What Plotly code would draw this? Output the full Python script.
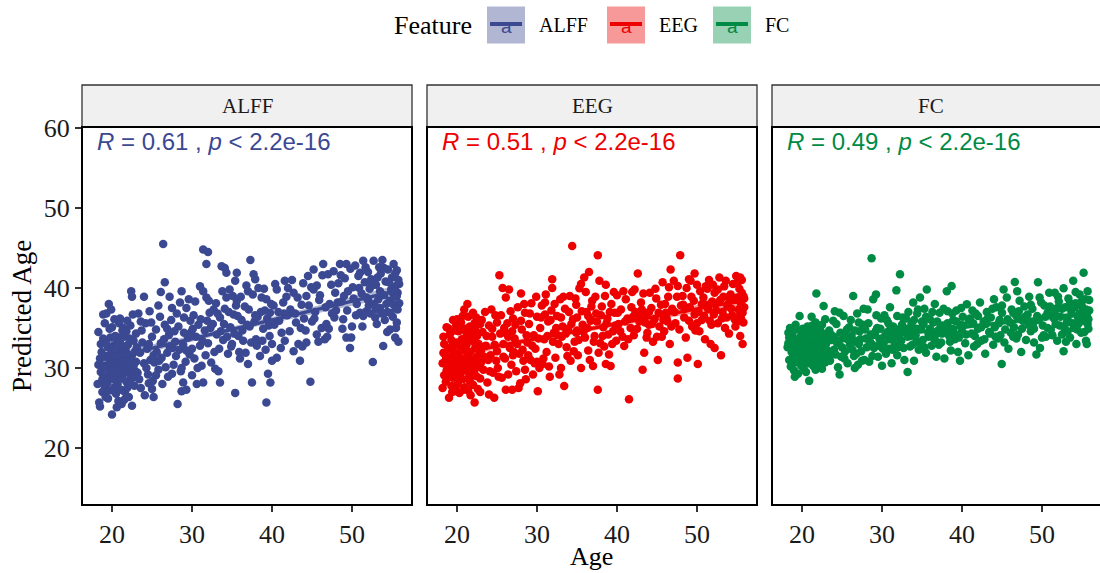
import numpy as np
import plotly.graph_objects as go

features = ["ALFF", "EEG", "FC"]
colors = ["#3B4992", "#EE0000", "#008B45"]
r_labels = ["0.61", "0.51", "0.49"]
p_label = "2.2e-16"
x_ticks = [20, 30, 40, 50]
y_ticks = [20, 30, 40, 50, 60]
x_title = "Age"
y_title = "Predicted Age"
legend_title = "Feature"

# (Age, Predicted Age)
alff_points = [
    (18.2,28.0),(18.3,34.5),(18.4,25.7),(18.5,25.2),(18.5,31.2),(18.6,29.5),(18.7,32.0),(18.8,28.6),(18.9,36.7),(19.0,30.3),
    (19.0,27.9),(19.1,33.1),(19.2,29.0),(19.3,36.8),(19.3,31.5),(19.4,30.0),(19.5,28.4),(19.5,32.6),(19.6,38.0),(19.6,27.2),
    (19.7,30.8),(19.8,33.8),(19.8,29.6),(19.9,31.9),(20.0,24.2),(20.0,35.1),(20.0,28.9),(20.0,30.5),(19.2,26.4),(18.9,33.7),
    (19.7,34.9),(19.4,28.1),
    (20.1,31.0),(20.2,29.3),(20.2,32.8),(20.3,27.6),(20.3,30.1),(20.4,34.0),(20.4,28.5),(20.5,31.7),(20.5,26.8),(20.6,29.9),
    (20.6,33.3),(20.7,30.6),(20.7,28.0),(20.8,32.2),(20.8,25.9),(20.9,30.9),(20.9,35.6),(21.0,36.2),(21.0,29.1),(21.0,31.4),
    (21.1,27.3),(21.1,33.0),(21.2,25.5),(21.2,30.2),(21.3,32.5),(21.3,28.7),(21.4,35.0),(21.4,30.7),(21.5,29.4),(21.5,33.9),
    (21.6,31.3),(21.6,27.0),(21.7,30.0),(21.8,34.6),(21.8,28.3),(21.9,31.8),(22.0,29.7),(22.0,32.9),(22.1,30.4),(22.1,26.4),
    (22.2,31.1),(22.3,35.3),(22.3,29.0),(22.4,39.6),(22.5,38.9),(22.5,25.3),(22.5,31.6),(22.6,28.8),(22.7,33.4),(22.7,30.3),
    (22.8,27.8),(22.9,32.1),(23.0,30.8),(23.0,34.3),(21.7,32.4),(20.5,33.9),(21.9,27.5),(22.2,33.7),(20.8,29.6),(21.4,31.9),
    (18.3,30.4),(18.6,33.0),(18.8,27.0),(19.1,35.6),(19.5,26.2),(19.9,37.3),(20.3,36.1),(20.6,25.1),(21.0,33.8),(21.5,26.0),
    (21.9,35.9),(22.2,28.1),(22.6,36.7),(22.9,29.6),(20.1,27.2),(21.3,34.7),(22.0,30.0),(19.3,33.0),
    (23.2,29.4),(23.3,36.8),(23.5,31.9),(23.6,27.5),(23.8,33.2),(24.0,30.6),(24.1,26.6),(24.2,35.6),(24.4,32.4),(24.5,29.2),
    (24.7,37.1),(24.8,31.0),(25.0,33.9),(25.1,28.4),(25.2,26.4),(25.3,30.7),(25.5,34.8),(25.6,32.0),(25.8,29.8),(26.0,36.4),
    (26.1,39.5),(26.2,31.3),(26.4,45.5),(26.5,33.6),(26.6,40.7),(26.7,30.1),(26.9,34.9),(27.0,28.9),(27.2,32.7),(27.4,36.0),
    (27.5,37.5),(27.7,30.4),(27.9,33.3),(28.0,31.5),(28.2,25.5),(28.3,35.2),(28.5,38.2),(28.6,29.6),(28.7,27.1),(28.7,39.6),
    (28.9,32.9),(29.0,34.4),(29.2,30.8),(29.3,27.3),(29.3,37.5),(29.5,33.8),(29.7,31.7),(29.8,35.9),(30.0,29.1),(30.0,32.4),
    (27.1,34.1),(25.9,30.9),(24.6,28.1),
    (23.1,32.6),(23.4,28.6),(23.7,34.7),(24.0,38.9),(24.3,30.0),(24.6,33.0),(24.9,35.7),(25.2,31.6),(25.5,29.1),(25.8,37.8),
    (26.1,33.1),(26.3,28.0),(26.6,35.4),(26.9,31.9),(27.2,38.9),(27.5,29.3),(27.8,34.6),(28.1,36.8),(28.4,32.3),(28.7,30.0),
    (29.0,36.3),(29.3,32.2),(29.6,38.6),(29.9,34.5),(23.6,35.8),(25.0,27.4),(27.6,32.5),(28.9,28.2),
    (30.2,36.6),(30.3,31.2),(30.5,33.9),(30.6,28.0),(30.8,35.4),(31.0,40.2),(31.0,32.8),(31.2,30.3),(31.4,44.8),(31.4,39.6),
    (31.4,28.2),(31.6,34.7),(31.8,43.0),(31.8,38.8),(32.0,44.5),(32.0,33.1),(32.2,36.9),(32.4,30.7),(32.6,35.5),(32.8,32.0),
    (33.0,38.1),(33.1,34.2),(33.3,29.6),(33.5,28.2),(33.5,36.3),(33.7,42.7),(33.9,33.5),(34.1,42.5),(34.1,37.4),(34.3,41.9),
    (34.3,38.8),(34.5,31.8),(34.7,39.8),(34.8,35.1),(35.0,33.0),(35.2,36.7),(35.4,40.9),(35.4,26.9),(35.6,41.9),(35.6,38.4),
    (35.8,34.0),(36.0,31.2),(36.2,36.0),(36.4,33.4),(36.6,37.7),(36.8,40.3),(37.0,39.6),(37.0,30.5),(37.2,35.2),(37.3,43.5),
    (37.5,28.2),(37.7,41.7),(37.9,41.1),(38.0,33.6),(38.2,36.4),(38.5,31.5),(38.7,38.8),(38.9,34.9),(39.1,37.2),(39.3,38.6),
    (39.3,25.7),(39.5,29.3),(39.6,35.3),(39.75,36.9),(39.8,28.2),(40.0,33.0),(40.0,30.9),
    (30.1,34.9),(30.4,38.3),(30.7,30.0),(31.1,36.1),(31.3,33.4),(31.7,31.6),(32.1,38.4),(32.3,35.0),(32.7,37.3),(32.9,29.9),
    (33.2,36.8),(33.4,32.4),(33.8,39.6),(34.0,35.5),(34.4,33.9),(34.6,37.0),(34.9,32.7),(35.1,39.0),(35.3,34.3),(35.7,36.5),
    (35.9,32.0),(36.1,38.9),(36.3,34.7),(36.7,31.9),(36.9,35.4),(37.1,37.3),(37.4,33.2),(37.6,39.2),(37.8,35.8),(38.1,32.8),
    (38.3,40.0),(38.6,37.0),(38.8,33.4),(39.0,39.9),(39.2,32.3),(39.4,36.2),(39.7,34.0),(39.9,38.0),(31.9,35.9),(33.6,34.6),
    (35.5,37.8),(37.9,36.6),
    (40.2,37.8),(40.4,40.5),(40.6,39.8),(40.6,31.3),(40.9,35.9),(41.2,34.4),(41.4,38.2),(41.6,40.9),(41.6,33.4),(41.9,36.6),
    (42.0,40.0),(42.3,37.3),(42.7,39.4),(42.7,32.1),(43.0,35.7),(43.3,33.0),(43.5,30.9),(43.7,37.9),(44.0,36.2),(44.3,39.0),
    (44.3,33.2),(44.5,41.5),(44.8,28.3),(45.0,35.8),(45.2,42.3),(45.2,39.8),(45.4,37.0),(45.6,40.3),(45.6,34.2),(45.9,38.5),
    (46.2,35.0),(46.4,43.0),(46.6,33.6),(46.8,35.5),(47.0,41.7),(47.2,38.0),(47.5,36.8),(47.7,42.1),(47.9,39.4),(48.0,37.2),
    (40.3,35.4),(40.8,37.0),(41.1,32.5),(41.5,36.8),(41.8,38.9),(42.2,34.6),(42.5,41.0),(42.9,36.8),(43.2,38.8),(43.6,35.0),
    (43.9,40.6),(44.2,34.7),(44.6,37.8),(44.9,40.1),(45.3,36.2),(45.8,33.3),(46.0,39.1),(46.3,41.6),(46.7,37.6),(47.1,34.9),
    (47.4,40.4),(47.8,36.3),(43.8,32.7),(46.9,33.9),
    (48.3,40.6),(48.5,43.0),(48.7,38.3),(48.9,36.1),(49.1,41.2),(49.3,43.0),(49.3,33.8),(49.5,39.6),(49.75,32.5),(49.9,33.8),
    (50.1,40.1),(50.4,42.8),(50.6,38.0),(50.8,41.5),(51.0,36.9),(51.2,39.3),(51.4,43.4),(51.4,36.5),(51.6,40.7),(51.8,38.8),
    (51.8,37.1),(52.0,42.0),(52.2,39.9),(52.4,41.1),(52.6,30.75),(52.7,43.4),(52.9,36.3),(53.0,40.4),(53.1,35.5),(53.3,38.6),
    (53.5,37.5),(53.6,41.8),(53.8,43.5),(53.9,32.75),(54.0,39.1),(54.2,40.8),(54.4,37.0),(54.5,42.3),(54.7,38.4),(54.75,34.8),
    (54.9,39.8),(55.0,41.3),(55.1,36.4),(55.2,43.0),(55.3,38.9),(55.4,40.2),(55.5,37.6),(55.6,42.2),(55.6,35.7),(55.7,39.4),
    (55.8,33.3),(55.8,41.0),(55.9,38.1),(54.1,36.0),(53.4,42.6),(52.1,37.8),(50.0,35.2),(48.8,34.9),(51.0,41.9),(55.4,33.8),
    (48.2,38.2),(48.6,41.6),(49.0,39.0),(49.4,37.2),(49.8,42.4),(50.2,38.7),(50.5,36.6),(50.9,40.0),(51.3,35.2),(51.7,42.6),
    (52.0,38.5),(52.3,36.8),(52.5,40.3),(52.8,38.0),(53.2,41.3),(53.5,39.6),(53.7,36.8),(54.0,42.5),(54.3,38.0),(54.6,40.7),
    (54.8,36.9),(55.0,39.5),(55.2,37.9),(55.4,41.8),(55.6,39.0),(55.7,37.3),(55.9,40.5),(55.5,35.0),(54.4,34.5),(53.0,37.3),
]

eeg_points = [
    (18.2,27.5),(18.2,30.6),(18.3,33.9),(18.4,33.0),(18.4,29.1),(18.5,31.7),(18.6,28.3),(18.7,35.1),(18.8,30.2),(18.9,32.4),
    (19.0,26.3),(19.0,29.6),(19.1,34.2),(19.2,31.1),(19.3,27.8),(19.3,33.5),(19.4,30.0),(19.5,36.0),(19.5,28.8),(19.6,32.0),
    (19.7,29.3),(19.7,34.7),(19.8,31.4),(19.9,35.4),(19.9,27.1),(20.0,30.8),(20.0,33.2),(18.6,31.0),(19.1,28.9),(19.4,32.8),
    (18.9,30.6),(19.8,29.9),
    (20.1,31.8),(20.1,28.0),(20.2,34.6),(20.3,30.3),(20.3,26.9),(20.4,32.7),(20.5,29.4),(20.5,35.7),(20.6,31.2),(20.7,36.5),
    (20.7,28.6),(20.8,33.1),(20.9,37.3),(20.9,30.0),(21.0,27.6),(21.0,32.3),(21.1,34.9),(21.2,29.7),(21.3,38.0),(21.3,31.5),
    (21.4,27.2),(21.4,33.8),(21.5,30.6),(21.6,35.2),(21.6,28.4),(21.7,32.0),(21.8,29.1),(21.8,34.4),(21.9,31.0),(22.0,36.9),
    (22.0,27.9),(22.1,33.3),(22.2,25.7),(22.2,30.4),(22.3,32.6),(22.4,36.3),(22.4,29.0),(22.5,34.0),(22.6,31.4),(22.6,27.4),
    (22.7,33.0),(22.8,30.1),(22.9,35.5),(22.9,28.7),(23.0,32.2),(23.0,30.7),(20.6,33.6),(21.1,30.9),(21.7,26.6),(22.3,34.8),
    (20.4,29.9),(21.9,33.5),(22.8,31.9),(21.2,32.9),(20.8,27.3),(22.1,29.5),
    (18.3,31.9),(18.7,29.7),(19.0,34.9),(19.4,27.0),(19.8,32.9),(20.2,29.0),(20.6,34.8),(21.0,30.6),(21.4,36.4),(21.8,30.3),
    (22.2,35.6),(22.6,33.0),(22.9,27.0),(20.0,36.1),(21.5,28.9),(22.4,31.3),(19.6,30.5),(21.2,34.1),
    (23.2,34.5),(23.3,29.8),(23.5,37.0),(23.6,32.8),(23.8,28.2),(24.0,26.7),(24.0,35.3),(24.2,31.6),(24.4,33.9),(24.5,29.4),
    (24.65,26.3),(24.8,36.6),(25.0,32.1),(25.1,30.0),(25.3,41.6),(25.4,34.3),(25.6,28.8),(25.7,40.0),(25.8,33.0),(26.0,31.2),
    (26.1,38.8),(26.1,27.3),(26.3,35.6),(26.5,39.8),(26.6,32.5),(26.8,30.4),(26.9,27.3),(27.0,36.2),(27.2,33.7),(27.4,29.6),
    (27.6,37.6),(27.8,31.8),(28.0,39.3),(28.1,34.8),(28.3,30.9),(28.5,36.9),(28.6,28.6),(28.8,33.2),(29.0,35.5),(29.2,31.0),
    (29.3,38.1),(29.5,29.2),(29.6,34.1),(29.8,32.4),(30.0,36.4),(30.0,30.8),(23.9,31.0),(24.9,30.9),(25.9,35.0),(27.1,32.0),
    (28.9,31.6),(26.4,33.9),(27.9,28.1),
    (23.1,36.0),(23.4,31.4),(23.7,34.0),(24.1,29.6),(24.3,37.3),(24.7,32.9),(25.0,35.7),(25.2,28.9),(25.5,36.6),(25.8,31.4),
    (26.2,34.3),(26.4,29.2),(26.7,37.1),(27.0,31.6),(27.3,35.4),(27.5,33.0),(27.7,27.5),(28.0,35.9),(28.2,32.3),(28.4,38.0),
    (28.7,34.1),(29.1,36.8),(29.4,32.8),(29.7,30.6),(29.9,38.9),(24.4,34.9),(26.9,34.6),(28.5,29.8),
    (30.1,27.1),(30.3,30.0),(30.4,35.0),(30.6,37.8),(30.7,30.5),(30.9,33.6),(31.1,39.2),(31.2,32.0),(31.4,35.8),(31.6,28.9),
    (31.8,37.2),(31.9,41.1),(31.9,40.0),(32.1,34.4),(32.3,31.3),(32.5,36.5),(32.7,33.0),(32.9,38.6),(33.0,30.0),(33.2,35.2),
    (33.4,27.75),(33.5,37.4),(33.7,32.6),(33.9,34.9),(34.1,39.0),(34.2,30.9),(34.4,45.25),(34.5,36.1),(34.7,33.3),(34.9,37.9),
    (35.1,31.6),(35.3,39.96),(35.5,40.5),(35.5,30.0),(35.7,35.4),(35.9,41.3),(36.0,33.8),(36.2,37.0),(36.4,32.2),(36.5,42.0),
    (36.7,35.9),(36.9,38.4),(37.0,30.25),(37.2,34.0),(37.4,36.8),(37.6,44.1),(37.6,27.3),(37.8,40.9),(37.9,33.1),(38.1,37.7),
    (38.3,35.1),(38.6,40.4),(38.6,30.5),(38.8,36.2),(39.0,31.7),(39.2,30.25),(39.3,38.0),(39.5,34.6),(39.7,36.9),(39.9,33.4),
    (40.0,39.1),(31.0,36.7),(33.1,33.9),(35.0,34.7),(36.8,36.0),(38.4,32.7),
    (30.2,33.7),(30.5,36.3),(30.8,31.2),(31.0,38.2),(31.3,34.0),(31.5,30.2),(31.7,36.0),(32.0,33.3),(32.2,38.0),(32.4,35.0),
    (32.8,29.2),(33.0,36.3),(33.3,38.9),(33.6,34.3),(33.8,31.5),(34.0,37.0),(34.3,35.5),(34.6,32.1),(34.8,38.7),(35.0,36.3),
    (35.2,33.5),(35.6,37.1),(35.8,34.5),(36.1,39.5),(36.3,35.0),(36.6,31.0),(36.8,37.7),(37.1,33.3),(37.3,38.9),(37.5,35.8),
    (37.7,31.9),(38.0,36.6),(38.2,34.0),(38.5,39.0),(38.7,35.6),(39.1,37.0),(39.4,33.0),(39.6,39.5),(39.8,35.3),(32.6,34.1),
    (34.9,34.4),(36.4,36.5),(38.9,34.2),
    (40.2,35.5),(40.5,37.3),(40.7,33.9),(40.9,32.75),(41.1,38.6),(41.3,36.2),(41.5,26.1),(41.7,35.0),(41.9,39.5),(42.1,34.1),
    (42.3,37.0),(42.6,41.8),(42.8,35.8),(43.0,38.2),(43.2,29.8),(43.4,31.9),(43.6,36.7),(43.8,34.4),(44.1,39.4),(44.3,37.5),
    (44.5,33.3),(44.7,36.1),(44.9,38.7),(45.1,31.0),(45.3,35.2),(45.5,37.9),(45.7,40.7),(45.9,34.6),(46.1,36.9),(46.4,38.9),
    (46.6,33.0),(46.7,42.3),(46.9,37.4),(47.1,40.9),(47.3,35.6),(47.6,40.25),(47.6,30.7),(47.6,28.7),(47.9,44.1),(48.0,37.8),
    (42.0,36.4),(44.0,35.4),(46.3,35.8),(43.1,37.3),(45.0,33.9),
    (40.1,36.9),(40.4,34.6),(40.8,39.6),(41.0,35.8),(41.4,33.6),(41.8,37.6),(42.2,39.8),(42.5,34.9),(42.9,36.4),(43.3,39.3),
    (43.7,33.8),(44.0,37.0),(44.4,35.5),(44.8,39.9),(45.2,36.9),(45.6,33.9),(46.0,38.0),(46.2,36.2),(46.5,40.1),(46.8,35.2),
    (47.2,37.0),(47.5,38.9),(47.8,34.8),(43.5,35.7),(45.8,36.0),
    (48.2,39.0),(48.4,36.3),(48.6,33.8),(48.8,31.3),(49.0,41.1),(49.1,37.6),(49.2,40.9),(49.4,35.2),(49.6,38.4),(49.8,34.7),
    (50.1,30.5),(50.2,37.0),(50.4,39.6),(50.6,36.0),(50.8,38.8),(51.0,33.6),(51.2,37.9),(51.5,41.0),(51.6,35.9),(51.7,33.0),
    (51.9,38.3),(52.1,36.7),(52.2,39.4),(52.2,32.5),(52.4,37.2),(52.6,39.8),(52.8,41.3),(53.0,31.6),(53.1,36.2),(53.3,38.9),
    (53.5,35.0),(53.6,40.9),(53.8,37.7),(54.0,34.3),(54.2,39.2),(54.4,36.6),(54.6,38.5),(54.9,41.5),(55.0,35.8),(55.1,40.7),
    (55.2,37.3),(55.3,39.9),(55.4,34.0),(55.5,38.1),(55.6,41.0),(55.7,33.0),(55.7,36.9),(55.8,39.0),(55.9,37.6),(48.5,37.4),
    (50.0,35.6),(51.3,39.9),(53.9,38.0),(54.7,36.1),(55.3,38.4),(49.7,41.8),
    (48.3,37.9),(48.7,40.0),(49.0,35.9),(49.3,38.9),(49.7,36.7),(50.0,40.4),(50.3,34.6),(50.6,38.0),(50.9,36.5),(51.1,40.2),
    (51.4,37.3),(51.8,35.4),(52.0,40.4),(52.3,38.0),(52.6,35.6),(52.9,38.5),(53.2,37.0),(53.4,40.2),(53.7,36.3),(54.0,38.9),
    (54.3,37.4),(54.5,40.5),(54.8,35.2),(55.0,38.8),(55.2,36.4),(55.4,41.3),(55.6,39.4),(55.8,35.7),(55.9,38.7),(55.5,36.2),
]

fc_points = [
    (18.2,32.6),(18.3,34.4),(18.4,31.0),(18.5,35.0),(18.5,33.3),(18.6,30.2),(18.7,32.0),(18.8,34.1),(18.9,31.6),(19.0,29.7),
    (19.0,33.6),(19.1,32.3),(19.2,30.7),(19.3,34.8),(19.4,31.9),(19.5,33.0),(19.5,29.3),(19.6,32.7),(19.7,36.5),(19.75,30.9),
    (19.8,33.9),(19.9,31.3),(20.0,34.5),(20.0,32.1),(18.9,33.0),(19.3,32.9),(19.6,31.2),(18.4,33.8),(19.1,28.9),(19.9,30.3),
    (20.1,33.2),(20.2,30.0),(20.2,31.8),(20.3,34.3),(20.4,32.5),(20.5,29.5),(20.5,33.7),(20.6,31.1),(20.7,35.2),(20.7,32.9),
    (20.8,30.6),(20.9,28.4),(20.9,34.0),(21.0,32.2),(21.1,33.5),(21.2,36.4),(21.2,30.8),(21.3,32.7),(21.4,30.25),(21.4,34.6),
    (21.5,31.9),(21.6,33.3),(21.7,29.8),(21.7,35.7),(21.8,39.3),(21.8,32.4),(21.9,31.0),(22.0,33.8),(22.1,30.4),(22.2,34.9),
    (22.2,32.0),(22.3,31.4),(22.4,33.1),(22.5,29.9),(22.5,35.4),(22.6,32.6),(22.7,37.75),(22.7,31.2),(22.8,34.2),(22.9,36.1),
    (22.9,30.7),(23.0,33.0),(20.4,31.5),(21.0,34.8),(21.5,33.0),(22.0,31.6),(22.4,34.5),(20.6,32.3),(21.9,32.8),(22.8,31.8),
    (20.8,33.4),(21.3,31.3),
    (18.3,33.1),(18.6,34.6),(18.9,32.2),(19.2,35.4),(19.5,31.7),(19.8,32.6),(20.1,34.9),(20.4,33.6),(20.7,31.6),(21.0,33.0),
    (21.3,35.3),(21.6,32.0),(21.9,34.1),(22.2,33.2),(22.5,31.0),(22.8,33.6),(19.0,31.4),(20.3,32.8),(21.1,31.7),(22.0,35.2),
    (23.2,32.2),(23.4,34.7),(23.5,30.9),(23.7,33.5),(23.9,35.9),(24.1,37.1),(24.2,31.7),(24.4,33.1),(24.5,30.1),(24.7,29.2),
    (24.8,34.4),(25.0,32.6),(25.2,36.5),(25.3,31.2),(25.5,33.9),(25.7,30.6),(25.9,35.1),(26.0,32.9),(26.2,34.0),(26.4,39.0),
    (26.5,31.5),(26.7,33.3),(26.9,36.8),(27.0,30.4),(27.2,34.6),(27.4,32.1),(27.6,35.4),(27.8,31.0),(28.0,33.7),(28.2,37.3),
    (28.4,30.8),(28.6,34.2),(28.7,43.7),(28.9,38.6),(29.0,32.5),(29.25,39.2),(29.4,35.0),(29.5,31.4),(29.7,33.6),(29.9,36.2),
    (30.0,30.3),(24.0,33.9),(25.6,34.8),(27.1,33.0),(28.8,32.9),(26.6,30.0),(23.8,31.8),(29.2,34.6),
    (23.1,33.8),(23.3,31.5),(23.6,34.2),(24.0,32.3),(24.3,35.5),(24.6,33.4),(24.9,31.4),(25.1,34.2),(25.4,32.1),(25.8,33.5),
    (26.1,36.0),(26.3,32.3),(26.6,34.7),(26.8,31.8),(27.1,35.7),(27.3,33.6),(27.5,30.9),(27.9,34.8),(28.1,32.6),(28.3,35.6),
    (28.5,33.3),(28.8,31.5),(29.1,34.2),(29.3,36.6),(29.6,32.8),(29.8,34.9),(24.7,36.9),(27.7,37.4),
    (30.2,33.1),(30.3,36.6),(30.5,31.8),(30.7,34.5),(30.9,32.4),(31.0,37.6),(31.2,30.6),(31.4,35.2),(31.6,33.0),(31.8,39.7),
    (31.9,31.6),(32.1,34.8),(32.25,41.7),(32.4,33.4),(32.6,36.3),(32.8,31.0),(33.0,34.9),(33.2,29.5),(33.3,37.0),(33.5,32.7),
    (33.7,35.6),(33.9,38.2),(34.0,30.9),(34.2,34.1),(34.4,36.8),(34.6,32.3),(34.75,38.8),(34.9,35.0),(35.1,33.5),(35.3,37.4),
    (35.5,31.9),(35.6,39.8),(35.8,34.4),(36.0,36.1),(36.2,32.8),(36.4,35.7),(36.6,38.0),(36.8,31.4),(37.0,34.7),(37.2,36.9),
    (37.4,33.2),(37.6,35.3),(37.8,31.2),(38.1,39.6),(38.2,37.1),(38.4,34.0),(38.6,32.2),(38.7,40.25),(38.9,36.0),(39.1,33.6),
    (39.3,35.8),(39.5,32.0),(39.75,30.9),(39.9,37.5),(40.0,34.6),(30.8,35.6),(32.0,32.6),(33.6,34.0),(35.2,35.5),(36.5,33.7),
    (37.5,34.3),(38.8,34.9),(31.5,34.0),(34.3,33.3),
    (30.1,32.4),(30.4,34.1),(30.6,36.0),(30.9,33.6),(31.1,35.1),(31.3,32.3),(31.6,34.4),(31.9,36.5),(32.2,33.7),(32.5,35.4),
    (32.7,32.5),(33.0,36.2),(33.2,33.9),(33.5,35.0),(33.8,32.9),(34.0,36.0),(34.3,34.9),(34.5,37.3),(34.8,33.2),(35.0,35.8),
    (35.3,32.6),(35.5,36.4),(35.8,33.9),(36.0,34.9),(36.3,37.0),(36.6,33.5),(36.9,35.8),(37.1,32.9),(37.3,35.0),(37.7,37.4),
    (37.9,34.6),(38.2,35.6),(38.5,33.3),(38.8,36.8),(39.0,34.4),(39.3,37.2),(39.6,33.8),(39.8,35.4),(32.8,34.5),(36.7,34.2),
    (40.2,35.3),(40.4,33.1),(40.6,37.96),(40.8,31.6),(41.0,36.2),(41.2,34.3),(41.5,32.7),(41.7,36.8),(42.0,34.9),(42.25,38.2),
    (42.4,33.4),(42.7,35.8),(42.9,31.8),(43.1,37.0),(43.4,34.5),(43.6,36.3),(43.9,32.9),(44.1,35.1),(44.3,37.6),(44.5,33.7),
    (44.7,36.0),(44.96,30.5),(45.2,39.8),(45.4,34.8),(45.6,38.8),(45.8,32.4),(46.0,35.7),(46.2,37.3),(46.4,33.9),(46.6,40.75),
    (46.8,36.5),(47.0,34.2),(47.2,38.4),(47.4,32.0),(47.6,35.9),(47.8,37.7),(48.0,33.5),(41.9,33.0),(43.0,35.5),(44.8,34.1),
    (46.5,35.1),(47.3,36.2),(45.0,36.9),(41.4,35.6),
    (40.1,36.4),(40.5,34.2),(40.9,35.9),(41.3,37.2),(41.6,34.0),(42.0,36.5),(42.4,35.1),(42.8,33.6),(43.2,36.2),(43.5,34.3),
    (43.8,37.4),(44.2,33.9),(44.6,35.6),(45.0,37.8),(45.3,33.2),(45.7,36.1),(46.1,34.4),(46.4,36.9),(46.8,33.7),(47.1,37.1),
    (47.5,34.9),(47.9,36.4),(44.0,38.6),(46.9,39.6),
    (48.2,36.7),(48.4,38.9),(48.6,34.6),(48.8,37.4),(49.0,33.2),(49.3,31.7),(49.5,40.7),(49.6,36.0),(49.75,32.5),(49.9,38.2),
    (50.1,35.3),(50.3,37.8),(50.5,33.9),(50.7,36.9),(50.9,39.4),(51.1,34.8),(51.3,37.0),(51.6,39.4),(51.7,35.5),(51.9,33.4),
    (52.1,38.3),(52.3,36.4),(52.5,34.2),(52.7,39.96),(52.7,32.1),(52.9,37.6),(53.1,35.7),(53.3,38.7),(53.5,33.8),(53.7,36.8),
    (53.9,40.9),(54.0,35.0),(54.2,38.1),(54.3,33.0),(54.5,36.3),(54.7,39.2),(54.9,34.4),(55.0,37.7),(55.2,41.9),(55.3,35.9),
    (55.4,38.6),(55.5,33.4),(55.6,33.0),(55.6,36.6),(55.7,39.6),(55.8,34.9),(55.9,37.2),(48.9,35.6),(50.2,34.1),(51.5,36.2),
    (52.8,35.0),(53.6,37.3),(54.6,35.6),(55.1,36.0),(53.2,34.6),(54.8,37.9),
    (48.3,35.4),(48.6,37.9),(49.0,34.9),(49.4,36.5),(49.7,38.8),(50.0,33.8),(50.4,36.4),(50.7,35.0),(51.0,37.7),(51.3,34.1),
    (51.7,36.6),(52.0,38.9),(52.2,35.3),(52.5,37.4),(52.9,34.6),(53.2,36.1),(53.5,38.1),(53.8,35.6),(54.1,37.6),(54.4,34.8),
    (54.7,36.8),(55.0,38.4),(55.3,34.5),(55.5,37.3),(55.7,35.5),(55.9,38.5),(55.8,36.1),(54.2,39.5),(53.0,33.3),(51.9,37.5),
]

series_points = [alff_points, eeg_points, fc_points]

# ---------------- layout geometry (pixels) ----------------
W, H = 1100, 573
ML, MR, MT, MB = 82, 0, 85, 68
PW, PH = W - ML - MR, H - MT - MB
panel_px = [(82.0, 412.0), (427.0, 757.0), (772.0, 1100.0)]
strip_label_px = [247.0, 592.0, 931.0]
px_per_unit = 8.0
x_min = 16.25
y_range = [12.9, 60.1]
plot_top_px = 127.0


def pxx(px):
    return (px - ML) / PW


def pxy(py):
    return (H - MB - py) / PH


def rgba(hex_color, a):
    h = hex_color.lstrip("#")
    r, g, b = int(h[0:2], 16), int(h[2:4], 16), int(h[4:6], 16)
    return f"rgba({r},{g},{b},{a})"


SERIF = "Liberation Serif, Times New Roman, serif"
SANS = "Liberation Sans, Arial, sans-serif"

fig = go.Figure()
shapes = []
annotations = []
ydom = [0, pxy(plot_top_px)]

for i, (feat, col, pts) in enumerate(zip(features, colors, series_points)):
    n = i + 1
    xa = "x" if n == 1 else f"x{n}"
    ya = "y" if n == 1 else f"y{n}"
    ages = np.array([p[0] for p in pts])
    preds = np.array([p[1] for p in pts])

    # points
    fig.add_trace(go.Scatter(x=ages, y=preds, mode="markers", xaxis=xa, yaxis=ya,
                             marker=dict(color=col, size=8.5, line=dict(width=0)),
                             showlegend=False, hoverinfo="skip"))
    # linear fit + 95% CI
    b1, b0 = np.polyfit(ages, preds, 1)
    xs = np.linspace(ages.min(), ages.max(), 80)
    yh = b0 + b1 * xs
    nn = len(ages)
    resid = preds - (b0 + b1 * ages)
    s = np.sqrt(np.sum(resid ** 2) / (nn - 2))
    se = s * np.sqrt(1.0 / nn + (xs - ages.mean()) ** 2 / np.sum((ages - ages.mean()) ** 2))
    t = 1.968
    fig.add_trace(go.Scatter(x=np.concatenate([xs, xs[::-1]]),
                             y=np.concatenate([yh + t * se, (yh - t * se)[::-1]]),
                             fill="toself", fillcolor=rgba(col, 0.4), line=dict(width=0),
                             mode="lines", xaxis=xa, yaxis=ya, showlegend=False, hoverinfo="skip"))
    fig.add_trace(go.Scatter(x=xs, y=yh, mode="lines", line=dict(color=col, width=3.5),
                             xaxis=xa, yaxis=ya, showlegend=False, hoverinfo="skip"))

    x0p, x1p = panel_px[i]
    x_max = x_min + (x1p - x0p) / px_per_unit
    axis_common = dict(showgrid=False, zeroline=False, showline=False,
                       ticklen=6, tickwidth=1.5, tickcolor="#333333",
                       tickfont=dict(family=SERIF, size=26, color="#1a1a1a"))
    fig.update_layout(**{
        ("xaxis" if n == 1 else f"xaxis{n}"): dict(domain=[pxx(x0p), pxx(x1p)], range=[x_min, x_max],
                                                    tickvals=x_ticks, anchor=ya, ticks="outside",
                                                    **axis_common),
        ("yaxis" if n == 1 else f"yaxis{n}"): dict(domain=ydom, range=y_range, tickvals=y_ticks,
                                                    anchor=xa, showticklabels=(n == 1),
                                                    ticks=("outside" if n == 1 else ""),
                                                    **axis_common),
    })

    # strip
    x1_dom = 1.0 if n < 3 else 1.05
    shapes.append(dict(type="rect", xref=f"{xa} domain", yref="paper", x0=0, x1=x1_dom,
                       y0=pxy(plot_top_px), y1=pxy(85), fillcolor="#F0F0F0",
                       line=dict(color="#333333", width=1.3), layer="above"))
    # panel border
    shapes.append(dict(type="rect", xref=f"{xa} domain", yref=f"{ya} domain", x0=0, x1=x1_dom,
                       y0=0, y1=1, line=dict(color="black", width=2), layer="above"))
    annotations.append(dict(text=feat, xref="paper", yref="paper", x=pxx(strip_label_px[i]), y=pxy(106),
                            xanchor="center", yanchor="middle", showarrow=False,
                            font=dict(family=SERIF, size=21, color="#1a1a1a")))
    # correlation label
    annotations.append(dict(text=f"<i>R</i> = {r_labels[i]} , <i>p</i> &lt; {p_label}",
                            xref=xa, yref=ya, x=ages.min(), y=y_range[1],
                            xanchor="left", yanchor="top", yshift=1, xshift=-3, showarrow=False,
                            font=dict(family=SANS, size=24, color=col)))

# axis titles
annotations.append(dict(text=x_title, xref="paper", yref="paper", x=pxx(591), y=pxy(556),
                        xanchor="center", yanchor="middle", showarrow=False,
                        font=dict(family=SERIF, size=26, color="black")))
annotations.append(dict(text=y_title, xref="paper", yref="paper", x=pxx(22), y=pxy(316),
                        xanchor="center", yanchor="middle", textangle=-90, showarrow=False,
                        font=dict(family=SERIF, size=27, color="black")))

# legend (drawn manually, ggplot style)
leg_y = 25
annotations.append(dict(text=legend_title, xref="paper", yref="paper", x=pxx(392), y=pxy(leg_y),
                        xanchor="left", yanchor="middle", showarrow=False,
                        font=dict(family=SERIF, size=26, color="black")))
key_left = [487, 607, 713]
for feat, col, kx in zip(features, colors, key_left):
    shapes.append(dict(type="rect", xref="paper", yref="paper", x0=pxx(kx), x1=pxx(kx + 38),
                       y0=pxy(leg_y + 18.5), y1=pxy(leg_y - 18.5), fillcolor=rgba(col, 0.4),
                       line=dict(width=0)))
    shapes.append(dict(type="line", xref="paper", yref="paper", x0=pxx(kx + 3), x1=pxx(kx + 35),
                       y0=pxy(leg_y - 1), y1=pxy(leg_y - 1), line=dict(color=col, width=4)))
    annotations.append(dict(text="a", xref="paper", yref="paper", x=pxx(kx + 19), y=pxy(leg_y + 1),
                            xanchor="center", yanchor="middle", showarrow=False,
                            font=dict(family=SANS, size=19, color=col)))
    annotations.append(dict(text=feat, xref="paper", yref="paper", x=pxx(kx + 50), y=pxy(leg_y),
                            xanchor="left", yanchor="middle", showarrow=False,
                            font=dict(family=SERIF, size=20, color="black")))

fig.update_layout(width=W, height=H, margin=dict(l=ML, r=MR, t=MT, b=MB),
                  paper_bgcolor="white", plot_bgcolor="white", showlegend=False,
                  shapes=shapes, annotations=annotations)

fig.write_html("out.html")
